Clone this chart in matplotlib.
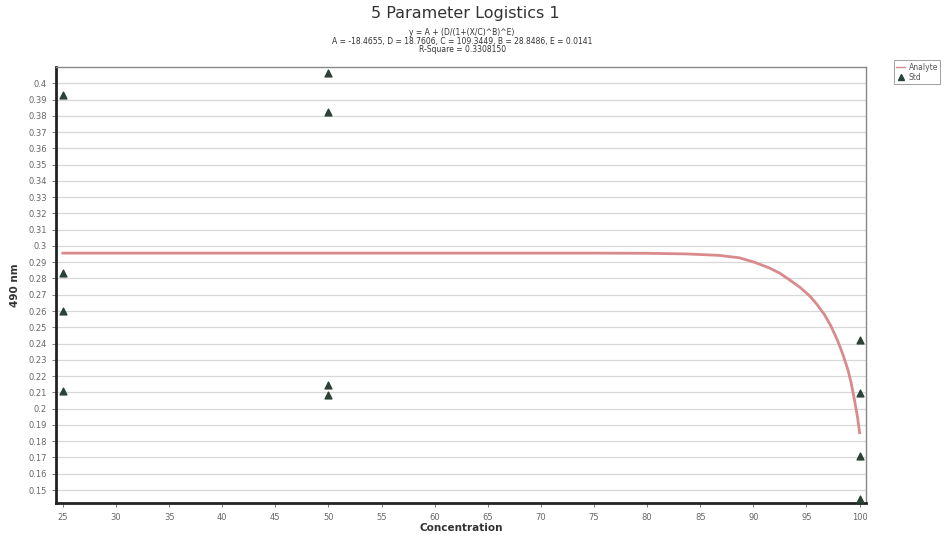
import matplotlib
matplotlib.use("Agg")
import matplotlib.pyplot as plt
from matplotlib.lines import Line2D

# Standard points (Std)
std_x = [25, 25, 25, 25, 50, 50, 50, 50, 100, 100, 100, 100]
std_y = [0.393, 0.2835, 0.260, 0.211, 0.4065, 0.3826, 0.2147, 0.2085, 0.2423, 0.2095, 0.1707, 0.1445]

# Fitted curve (Analyte)
curve_x = [25, 35, 45, 55, 65, 75, 80, 83.7, 86.8, 88.7, 90.1, 91.5, 92.5, 93.4, 94.4, 95.3,
           96.0, 96.7, 97.3, 97.9, 98.4, 98.9, 99.2, 99.5, 99.8, 100]
curve_y = [0.2956, 0.2956, 0.2956, 0.2956, 0.2956, 0.2956, 0.2955, 0.2951, 0.2942, 0.2927,
           0.2900, 0.2865, 0.2832, 0.2792, 0.2745, 0.2693, 0.2640, 0.2577, 0.2508, 0.2423,
           0.2338, 0.2239, 0.2160, 0.2060, 0.1950, 0.1852]

x_ticks = list(range(25, 101, 5))
y_ticks = [round(0.15 + 0.01 * i, 2) for i in range(26)]
y_tick_labels = [("%g" % v) for v in y_ticks]

title = "5 Parameter Logistics 1"
sub1 = "y = A + (D/(1+(X/C)^B)^E)"
sub2 = "A = -18.4655, D = 18.7606, C = 109.3449, B = 28.8486, E = 0.0141"
sub3 = "R-Square = 0.3308150"

fig = plt.figure(figsize=(9.49, 5.38), dpi=100)
ax = fig.add_axes([0.059, 0.065, 0.8535, 0.8105])

ax.plot(curve_x, curve_y, color="#d98a8a", lw=2.0, zorder=3, solid_joinstyle="round")
ax.scatter(std_x, std_y, marker="^", s=24, color="#2a4336", zorder=4)

ax.set_xlim(24.35, 100.6)
ax.set_ylim(0.142, 0.41)
ax.set_xticks(x_ticks)
ax.set_xticklabels([str(v) for v in x_ticks])
ax.set_yticks(y_ticks)
ax.set_yticklabels(y_tick_labels)
ax.tick_params(axis="both", labelsize=6, colors="#666666", length=3, width=0.6)
ax.tick_params(axis="x", pad=4)
ax.yaxis.grid(True, color="#d8d8d8", lw=0.9)
ax.xaxis.grid(False)
ax.set_axisbelow(True)

for s in ["left", "bottom"]:
    ax.spines[s].set_linewidth(2.0)
    ax.spines[s].set_color("#222222")
for s in ["top", "right"]:
    ax.spines[s].set_linewidth(1.0)
    ax.spines[s].set_color("#888888")

ax.set_xlabel("Concentration", fontsize=7.5, fontweight="bold", color="#333333", labelpad=1)
ax.set_ylabel("490 nm", fontsize=7.5, fontweight="bold", color="#333333", labelpad=6)

fig.text(0.49, 0.988, title, ha="center", va="top", fontsize=11.5, color="#333333")
fig.text(0.487, 0.948, sub1, ha="center", va="top", fontsize=5.5, color="#333333")
fig.text(0.487, 0.932, sub2, ha="center", va="top", fontsize=5.5, color="#333333")
fig.text(0.487, 0.916, sub3, ha="center", va="top", fontsize=5.5, color="#333333")

handles = [Line2D([0], [0], color="#d98a8a", lw=1.0),
           Line2D([0], [0], marker="^", color="#2a4336", lw=0, markersize=4)]
leg = fig.legend(handles, ["Analyte", "Std"], loc="upper left", bbox_to_anchor=(0.938, 0.895),
                 fontsize=5.5, frameon=True, fancybox=False, edgecolor="#888888",
                 handlelength=1.2, handletextpad=0.4, borderpad=0.3, labelspacing=0.2)
leg.get_frame().set_linewidth(0.7)
for t in leg.get_texts():
    t.set_color("#555555")

fig.savefig("out.png", dpi=100)
